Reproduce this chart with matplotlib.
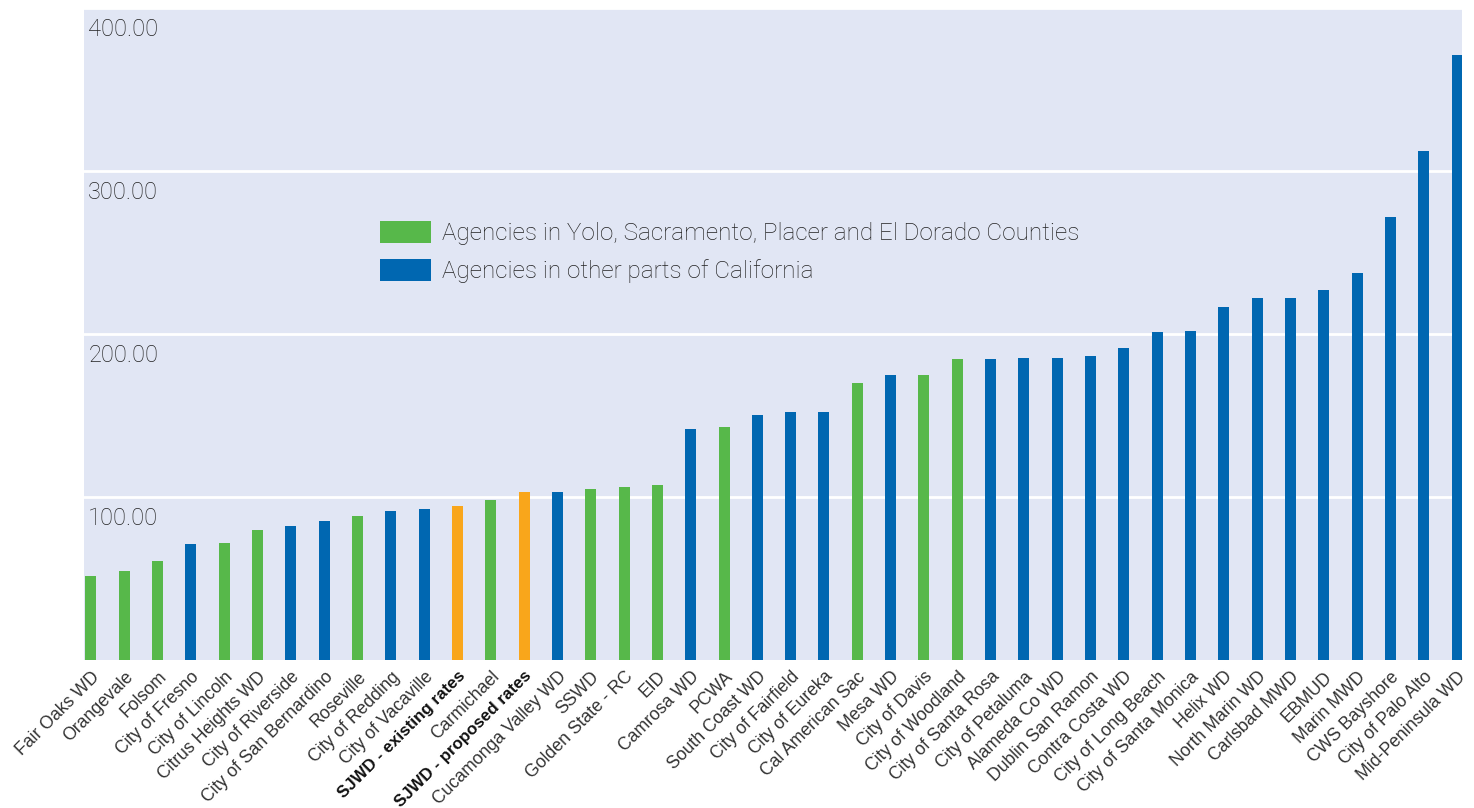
import matplotlib
matplotlib.use("Agg")
import matplotlib.pyplot as plt
from matplotlib.patches import Patch
import matplotlib.transforms as mtransforms

categories = ["Fair Oaks WD", "Orangevale", "Folsom", "City of Fresno", "City of Lincoln",
              "Citrus Heights WD", "City of Riverside", "City of San Bernardino", "Roseville",
              "City of Redding", "City of Vacaville", "SJWD - existing rates", "Carmichael",
              "SJWD - proposed rates", "Cucamonga Valley WD", "SSWD", "Golden State - RC", "EID",
              "Camrosa WD", "PCWA", "South Coast WD", "City of Fairfield", "City of Eureka",
              "Cal American Sac", "Mesa WD", "City of Davis", "City of Woodland",
              "City of Santa Rosa", "City of Petaluma", "Alameda Co WD", "Dublin San Ramon",
              "Contra Costa WD", "City of Long Beach", "City of Santa Monica", "Helix WD",
              "North Marin WD", "Carlsbad MWD", "EBMUD", "Marin MWD", "CWS Bayshore",
              "City of Palo Alto", "Mid-Peninsula WD"]
values = [51.2, 54.8, 60.4, 71.4, 72.0, 79.4, 81.9, 85.5, 88.0, 91.1, 92.3, 94.7, 98.3,
          103.2, 103.2, 105.1, 106.3, 107.5, 141.8, 143.1, 150.4, 152.3, 152.3, 170.0,
          174.9, 174.9, 184.7, 184.7, 185.4, 185.4, 186.6, 191.5, 201.3, 201.9, 216.6,
          222.1, 222.1, 227.1, 237.3, 271.6, 312.2, 371.1]
# group: L = Yolo/Sacramento/Placer/El Dorado, O = other parts of California, S = SJWD
groups = ["L", "L", "L", "O", "L", "L", "O", "O", "L", "O", "O", "S", "L", "S", "O", "L",
          "L", "L", "O", "L", "O", "O", "O", "L", "O", "L", "L", "O", "O", "O", "O", "O",
          "O", "O", "O", "O", "O", "O", "O", "O", "O", "O"]
bold_labels = ["SJWD - existing rates", "SJWD - proposed rates"]
yticks = [100, 200, 300, 400]
ytick_labels = ["100.00", "200.00", "300.00", "400.00"]
legend_labels = ["Agencies in Yolo, Sacramento, Placer and El Dorado Counties",
                 "Agencies in other parts of California"]

GREEN = "#57B84A"
BLUE = "#0067B1"
ORANGE = "#F9A61B"
BG = "#E1E6F4"
color_map = {"L": GREEN, "O": BLUE, "S": ORANGE}

plt.rcParams["font.family"] = ["Roboto", "DejaVu Sans"]

fig = plt.figure(figsize=(14.74, 8.08), dpi=100)
ax = fig.add_axes([84 / 1474, 1 - 660 / 808, (1462 - 84) / 1474, (660 - 7.5) / 808])
ax.set_facecolor(BG)

x = list(range(len(categories)))
ax.bar(x, values, width=0.33, color=[color_map[g] for g in groups], zorder=3)

ax.set_xlim(-0.21, len(categories) - 1 + 0.15)
ax.set_ylim(0, 400)
ax.set_yticks(yticks)
ax.yaxis.grid(True, color="white", linewidth=2, zorder=1)
ax.tick_params(axis="y", length=0, labelleft=False)
for s in ax.spines.values():
    s.set_visible(False)

trans = mtransforms.blended_transform_factory(ax.transAxes, ax.transData)
for yv, lab in zip(yticks, ytick_labels):
    ax.text(0.003, yv - 17.2, lab, transform=trans, ha="left", va="baseline",
            fontsize=17, color="#222222", fontweight="light", zorder=4)

ax.set_xticks(x)
ax.set_xticklabels(categories, rotation=45, ha="right", rotation_mode="anchor",
                   fontsize=12.7, color="#333333",
                   family=["Liberation Sans", "DejaVu Sans"])
ax.tick_params(axis="x", length=0, pad=6)
for t in ax.get_xticklabels():
    if t.get_text() in bold_labels:
        t.set_fontweight("bold")
        t.set_fontsize(12.2)
        t.set_color("#111111")

handles = [Patch(facecolor=GREEN, edgecolor="none"), Patch(facecolor=BLUE, edgecolor="none")]
leg = ax.legend(handles, legend_labels, loc="upper left",
                bbox_to_anchor=(380 / 1474, 1 - 221 / 808), bbox_transform=fig.transFigure,
                frameon=False, fontsize=17.5, handlelength=2.1, handleheight=1.03,
                handletextpad=0.45, labelspacing=0.55, borderpad=0, borderaxespad=0)
for t in leg.get_texts():
    t.set_color("#222222")
    t.set_fontweight("light")

fig.savefig("out.png", dpi=100, facecolor="white")
